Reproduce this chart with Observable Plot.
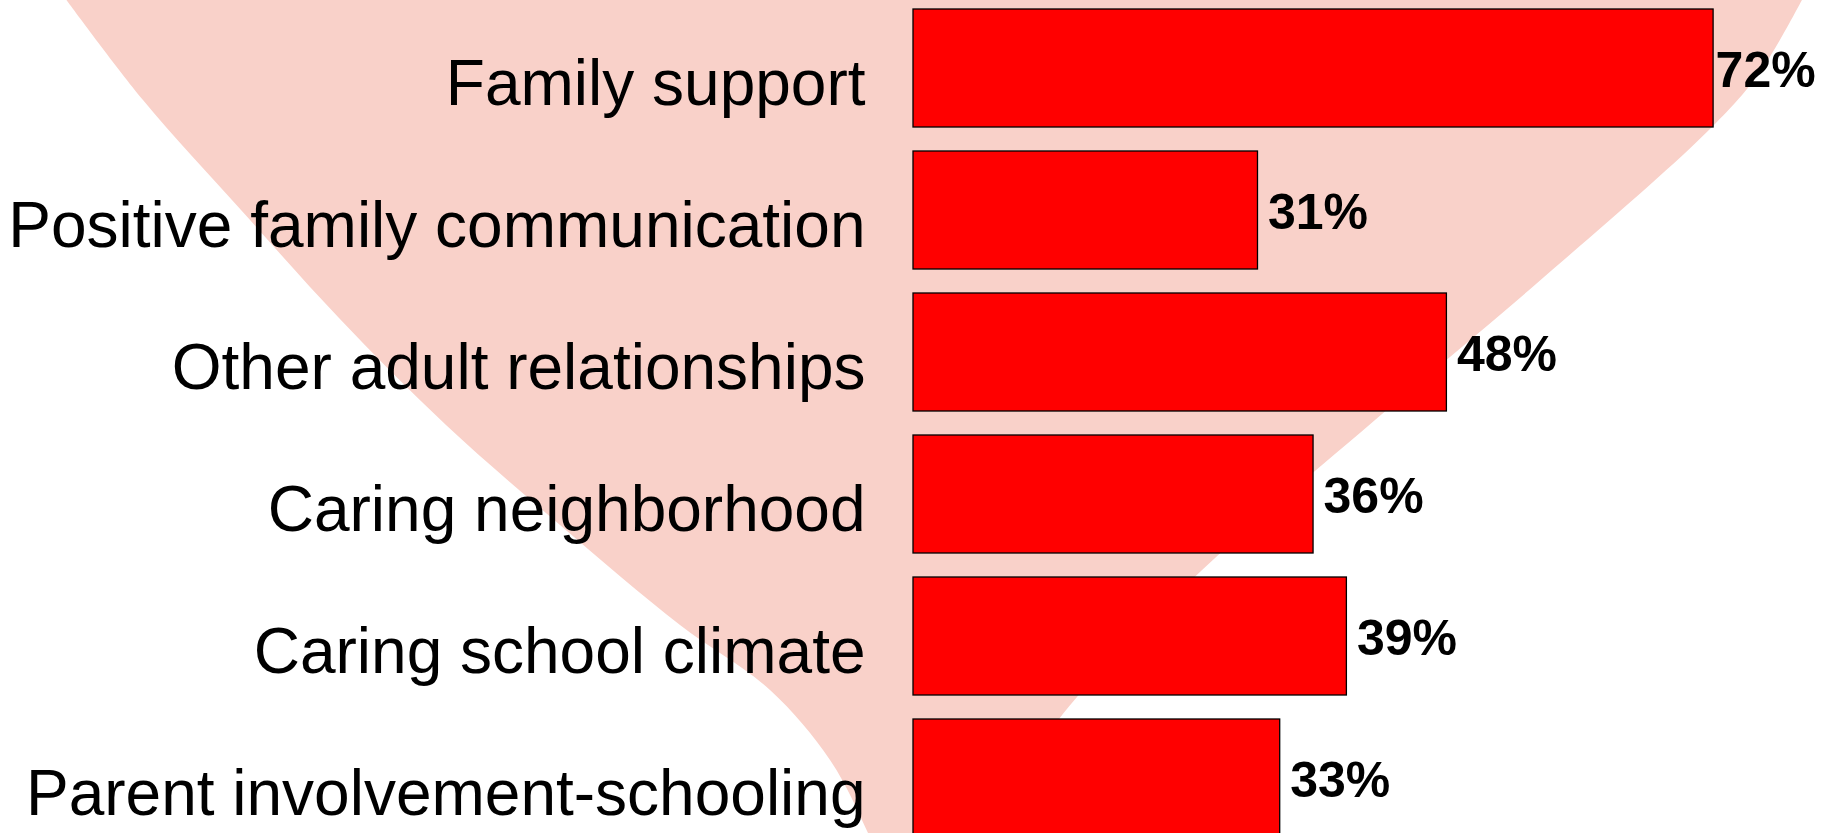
<!DOCTYPE html>
<html>
<head>
<meta charset="utf-8">
<script src="https://cdn.jsdelivr.net/npm/d3@7"></script>
<script src="https://cdn.jsdelivr.net/npm/@observablehq/plot@0.6"></script>
<style>
  html, body { margin: 0; padding: 0; background: #ffffff; }
  #chart { width: 1831px; height: 833px; overflow: hidden; }
</style>
</head>
<body>
<div id="chart"></div>
<script>
// Data
const categories = [
  "Family support",
  "Positive family communication",
  "Other adult relationships",
  "Caring neighborhood",
  "Caring school climate",
  "Parent involvement-schooling"
];
const values = [72, 31, 48, 36, 39, 33];

const data = categories.map((name, i) => ({name, value: values[i]}));

// Decorative background heart outline (pixel coordinates of the backdrop)
const heartLeft = [[65,-2],[143,100],[241,210],[339,318],[446,425],[560,525],[680,625],[770,690],[830,760],[868,833],[895,900]];
const heartRight = [[895,900],[990,810],[1077,697],[1201,571],[1375,420],[1536,284],[1712,127],[1760,72],[1803,-2]];

function heartMark() {
  const line = d3.line().curve(d3.curveCatmullRom.alpha(0.5));
  const left = line(heartLeft);
  const right = line(heartRight).replace(/^M/, "L");
  const d = left + right + "L1803,-20L65,-20Z";
  const path = document.createElementNS("http://www.w3.org/2000/svg", "path");
  path.setAttribute("d", d);
  path.setAttribute("fill", "#f9d1c9");
  return path;
}

const fontFamily = "'Liberation Sans', Arial, Helvetica, sans-serif";

const chart = Plot.plot({
  width: 1831,
  height: 833,
  marginLeft: 913,
  marginRight: 29,
  marginTop: 0,
  marginBottom: 0,
  style: {fontFamily, background: "transparent", overflow: "visible"},
  x: {domain: [0, 80], axis: null},
  y: {domain: categories, range: [-16, 861], padding: 0.17, axis: null},
  marks: [
    heartMark,
    Plot.barX(data, {x: "value", y: "name", fill: "#ff0000", stroke: "#000000", strokeWidth: 1.3}),
    Plot.text(data.filter(d => d.value !== 72), {
      x: "value", y: "name", text: d => d.value + "%",
      textAnchor: "start", dx: 10, dy: 2, fontSize: 50, fontWeight: "bold", fill: "#000000"
    }),
    Plot.text(data.filter(d => d.value === 72), {
      x: "value", y: "name", text: d => d.value + "%",
      textAnchor: "start", dx: 2, dy: 2, fontSize: 50, fontWeight: "bold", fill: "#000000"
    }),
    Plot.text(data, {
      y: "name", text: "name", frameAnchor: "left",
      textAnchor: "end", dx: -48, dy: 16, fontSize: 64, fill: "#000000"
    })
  ]
});

document.getElementById("chart").appendChild(chart);
</script>
</body>
</html>
